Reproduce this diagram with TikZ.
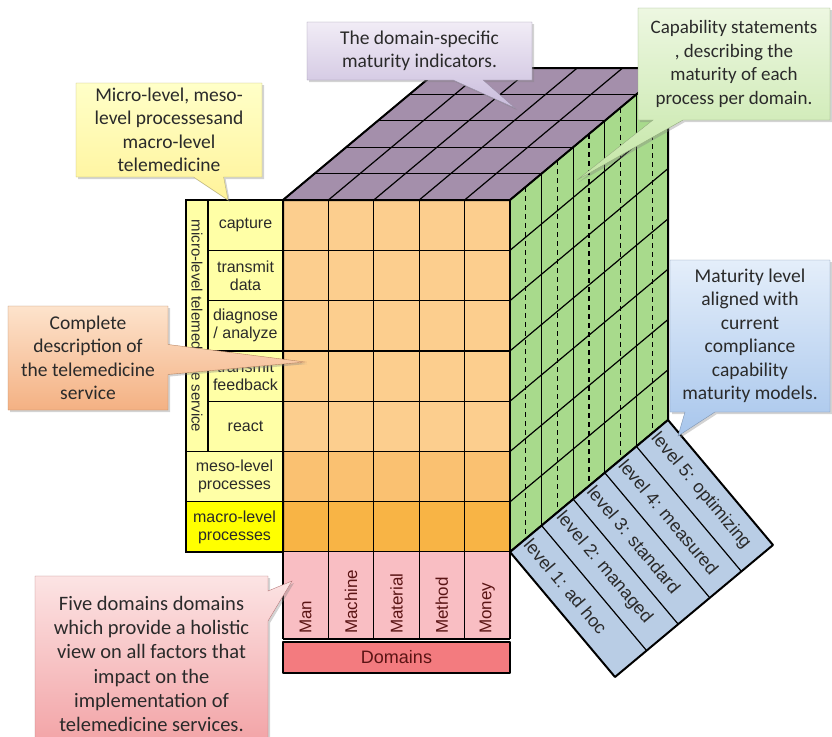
\documentclass[tikz,border=0pt]{standalone}
\usepackage{fontspec}
\setmainfont{Carlito}
\newfontfamily\tahoma{Liberation Sans}
\usetikzlibrary{shapes.callouts, shadows, positioning}

\definecolor{inktext}{HTML}{2A2A2A}
\definecolor{topface}{HTML}{A48FAB}
\definecolor{sideface}{HTML}{A8DA8C}
\definecolor{microrow}{HTML}{FCCE8E}
\definecolor{mesorow}{HTML}{FAC171}
\definecolor{macrorow}{HTML}{F8B445}
\definecolor{palelabel}{HTML}{FFFFA6}
\definecolor{macrolabel}{HTML}{FFFF00}
\definecolor{domaincell}{HTML}{F9BEC3}
\definecolor{domainbar}{HTML}{F37B7F}
\definecolor{domaintext}{HTML}{5A1414}
\definecolor{levelbox}{HTML}{B9CDE5}
\definecolor{yellowtop}{HTML}{FFFFC8}
\definecolor{yellowbot}{HTML}{FFF39A}
\definecolor{purpletop}{HTML}{F1ECF6}
\definecolor{purplebot}{HTML}{C9BCDC}
\definecolor{greentop}{HTML}{EDF7E1}
\definecolor{greenbot}{HTML}{C4E6A6}
\definecolor{bluetop}{HTML}{E4EEFA}
\definecolor{bluebot}{HTML}{A8C6EC}
\definecolor{orangetop}{HTML}{FDE3CC}
\definecolor{orangebot}{HTML}{F4B183}
\definecolor{pinktop}{HTML}{FCE4E4}
\definecolor{pinkbot}{HTML}{F2A0A3}

\tikzset{
    callnote/.style 2 args={rectangle callout, draw=#2!75!black, thin, top color=#1, bottom color=#2,
        text=inktext, align=center, font=\fontsize{19.5}{23.5}\selectfont, inner sep=1pt,
        callout pointer width=30pt, drop shadow={opacity=0.35, shadow xshift=2pt, shadow yshift=-2pt}},
    celltext/.style={font=\tahoma\fontsize{16}{18}\selectfont, text=inktext, align=center, inner sep=0pt},
    cubeline/.style={line width=1.2pt},
    rim/.style={line width=2pt, line join=round}
}

\begin{document}
\begin{tikzpicture}[x=1pt, y=-1pt]
        \useasboundingbox (0,0) rectangle (832,736);

        % front face
        \foreach \j/\c in {0/microrow, 1/microrow, 2/microrow, 3/microrow, 4/microrow, 5/mesorow, 6/macrorow}
        {
            \fill [\c] (283,{200+50.3*\j}) rectangle (510,{200+50.3*(\j+1)});
        }
        \foreach \i in {0, 1, ..., 5}
            \draw [cubeline] ({283+45.4*\i},200) -- ({283+45.4*\i},552);
        \foreach \j in {0, 1, ..., 7}
            \draw [cubeline] (283,{200+50.3*\j}) -- (510,{200+50.3*\j});

        % top face
        \fill [topface] (283,200) -- (510,200) -- (668,68) -- (441,68) -- cycle;
        \foreach \i in {0, 1, ..., 5}
            \draw [cubeline] ({283+45.4*\i},200) -- ({441+45.4*\i},68);
        \foreach \k in {0, 1, ..., 5}
            \draw [cubeline] ({283+31.6*\k},{200-26.4*\k}) -- ({510+31.6*\k},{200-26.4*\k});

        % side face
        \fill [sideface] (510,200) -- (668,68) -- (668,420) -- (510,552) -- cycle;
        \foreach \k in {0, 1, ..., 5}
        {
            \draw [cubeline] ({510+31.6*\k},{200-26.4*\k}) -- ({510+31.6*\k},{552-26.4*\k});
        }
        \foreach \k in {0, 1, ..., 4}
        {
            \draw [cubeline, dash pattern=on 5pt off 4pt] ({510+31.6*(\k+.5)},{200-26.4*(\k+.5)}) -- ({510+31.6*(\k+.5)},{552-26.4*(\k+.5)});
        }
        \foreach \j in {0, 1, ..., 7}
            \draw [cubeline] (510,{200+50.3*\j}) -- (668,{68+50.3*\j});
        \draw [rim] (283,200) -- (441,68) -- (668,68) -- (668,420) -- (510,552) -- (283,552) -- cycle;
        \draw [rim] (283,200) -- (510,200) -- (668,68);
        \draw [rim] (510,200) -- (510,552);

        % process labels
        \fill [palelabel] (186,200) rectangle (283,501.8);
        \fill [macrolabel] (186,501.8) rectangle (283,552);
        \draw [cubeline] (208,200) -- (208,451.5);
        \foreach \j in {1, 2, 3, 4}
            \draw [cubeline] (208,{200+50.3*\j}) -- (283,{200+50.3*\j});
        \draw [cubeline] (186,451.5) -- (283,451.5);
        \draw [cubeline] (186,501.8) -- (283,501.8);
        \draw [cubeline] (186,200) rectangle (283,552);
        \foreach \j/\txt in {0/capture, 1/{transmit\\data}, 2/{diagnose\\/ analyze}, 3/{transmit\\feedback}, 4/react}
        {
            \node [celltext] (proc\j) at (245.5,{200+50.3*(\j+.5)}) {\txt};
        }
        \node [celltext, font=\tahoma\fontsize{15}{17}\selectfont, rotate=-90] (microlbl) at (197,326) {micro-level telemedicine service};
        \node [celltext] (mesolbl) at (234.5,476.6) {meso-level\\processes};
        \node [celltext] (macrolbl) at (234.5,526.9) {macro-level\\processes};

        % domains
        \fill [domaincell] (283,552) rectangle (510,639);
        \foreach \i in {0, 1, ..., 5}
            \draw [cubeline] ({283+45.4*\i},552) -- ({283+45.4*\i},639);
        \draw [cubeline] (283,639) -- (510,639);
        \foreach \i/\txt in {0/Man, 1/Machine, 2/Material, 3/Method, 4/Money}
        {
            \node [celltext, font=\tahoma\fontsize{17}{19}\selectfont, text=domaintext, rotate=90, anchor=west] (dom\i) at ({283+45.4*(\i+.5)},634) {\txt};
        }
        \node [celltext, font=\tahoma\fontsize{18}{20}\selectfont, text=domaintext, draw=black, rim, fill=domainbar, minimum width=227pt, minimum height=31pt] (domains) at (396.5,657.5) {Domains};

        % maturity levels
        \fill [levelbox] (510,552) -- (668,420) -- (773,545) -- (615,677) -- cycle;
        \foreach \k in {1, 2, 3, 4}
            \draw [cubeline] ({510+31.6*\k},{552-26.4*\k}) -- ({615+31.6*\k},{677-26.4*\k});
        \foreach \k/\txt in {0/{level 1: ad hoc}, 1/{level 2: managed}, 2/{level 3: standard}, 3/{level 4: measured}, 4/{level 5: optimizing}}
        {
            \node [celltext, font=\tahoma\fontsize{18}{20}\selectfont, rotate=-50, anchor=west, inner sep=3pt] (lvl\k) at ({510+31.6*(\k+.5)},{552-26.4*(\k+.5)}) {\txt};
        }
        \draw [rim] (510,552) -- (668,420) -- (773,545) -- (615,677) -- cycle;

        % callouts
        \coordinate (tipMicro) at (228,200);
        \coordinate (tipTop) at (515,108);
        \coordinate (tipSide) at (577,180);
        \coordinate (tipLevel) at (678,436);
        \coordinate (tipService) at (305,362);
        \coordinate (tipDomain) at (292,581);

        \node [callnote={yellowtop}{yellowbot}, minimum width=186pt, minimum height=94pt, callout absolute pointer={(tipMicro)}] (microNote) at (169,130)
            {Micro-level, meso-\\level processesand\\macro-level\\telemedicine};
        \node [callnote={purpletop}{purplebot}, minimum width=225pt, minimum height=58pt, callout absolute pointer={(tipTop)}] (topNote) at (419.5,51)
            {The domain-specific\\maturity indicators.};
        \node [callnote={greentop}{greenbot}, font=\fontsize{19}{23.5}\selectfont, minimum width=192pt, minimum height=112pt, callout absolute pointer={(tipSide)}] (sideNote) at (734,64)
            {Capability statements\\, describing the\\maturity of each\\process per domain.};
        \node [callnote={bluetop}{bluebot}, minimum width=160pt, minimum height=152pt, callout absolute pointer={(tipLevel)}] (levelNote) at (750,336)
            {Maturity level\\aligned with\\current\\compliance\\capability\\maturity models.};
        \node [callnote={orangetop}{orangebot}, minimum width=160pt, minimum height=104pt, callout absolute pointer={(tipService)}] (serviceNote) at (88,358)
            {Complete\\description of\\the telemedicine\\service};
        \node [callnote={pinktop}{pinkbot}, font=\fontsize{20.5}{24.2}\selectfont, minimum width=233pt, minimum height=176pt, callout absolute pointer={(tipDomain)}] (domainNote) at (151.5,664)
            {Five domains domains\\which provide a holistic\\view on all factors that\\impact on the\\implementation of\\telemedicine services.};
\end{tikzpicture}
\end{document}
